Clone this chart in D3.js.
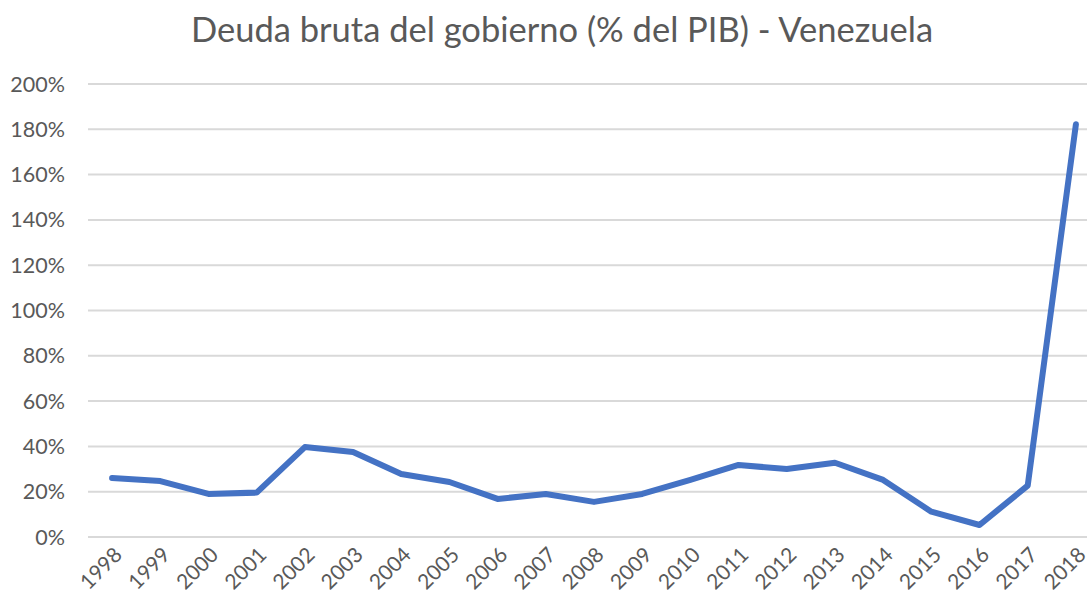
<!DOCTYPE html>
<html>
<head>
<meta charset="utf-8">
<script src="https://cdn.jsdelivr.net/npm/d3@7"></script>
<style>
  body { margin: 0; background: #fff; }
  text { font-family: Lato, "Open Sans", sans-serif; fill: #595959; }
</style>
</head>
<body>
<svg id="chart" width="1087" height="600"></svg>
<script>
const years = ["1998","1999","2000","2001","2002","2003","2004","2005","2006","2007",
  "2008","2009","2010","2011","2012","2013","2014","2015","2016","2017","2018"];
const debt = [26, 24.7, 19, 19.6, 39.7, 37.5, 27.8, 24.3, 16.8, 19,
  15.5, 19, 25.2, 31.8, 30, 32.8, 25.2, 11.2, 5.3, 22.7, 182.2];
const yTicks = [0, 20, 40, 60, 80, 100, 120, 140, 160, 180, 200];
const title = "Deuda bruta del gobierno (% del PIB) - Venezuela";

const svg = d3.select("#chart");
const margin = { left: 88, right: -13, top: 84, bottom: 63 };
const W = 1087, H = 600;

const x = d3.scaleBand()
  .domain(years)
  .range([margin.left, W - margin.right]);

const y = d3.scaleLinear()
  .domain([0, 200])
  .range([H - margin.bottom, margin.top]);

// title
svg.append("text")
  .attr("x", 562)
  .attr("y", 42)
  .attr("text-anchor", "middle")
  .style("font-size", "34.5px")
  .text(title);

// gridlines
svg.append("g")
  .selectAll("line")
  .data(yTicks).enter()
  .append("line")
  .attr("x1", margin.left)
  .attr("x2", W - margin.right)
  .attr("y1", d => y(d))
  .attr("y2", d => y(d))
  .attr("stroke", "#d9d9d9")
  .attr("stroke-width", 2);

// y labels
svg.append("g")
  .selectAll("text")
  .data(yTicks).enter()
  .append("text")
  .attr("x", 65)
  .attr("y", d => y(d))
  .attr("dy", "0.35em")
  .attr("text-anchor", "end")
  .style("font-size", "21.5px")
  .text(d => d + "%");

// x labels
svg.append("g")
  .selectAll("text")
  .data(years).enter()
  .append("text")
  .attr("transform", d => "translate(" + (x(d) + x.bandwidth() / 2 + 6) + "," + 551 + ") rotate(-45)")
  .attr("text-anchor", "end")
  .attr("dy", "0.35em")
  .style("font-size", "21px")
  .text(d => d);

// line
const line = d3.line()
  .x((d, i) => x(years[i]) + x.bandwidth() / 2)
  .y(d => y(d));

svg.append("path")
  .datum(debt)
  .attr("d", line)
  .attr("fill", "none")
  .attr("stroke", "#4472C4")
  .attr("stroke-width", 6)
  .attr("stroke-linejoin", "round")
  .attr("stroke-linecap", "round");
</script>
</body>
</html>
